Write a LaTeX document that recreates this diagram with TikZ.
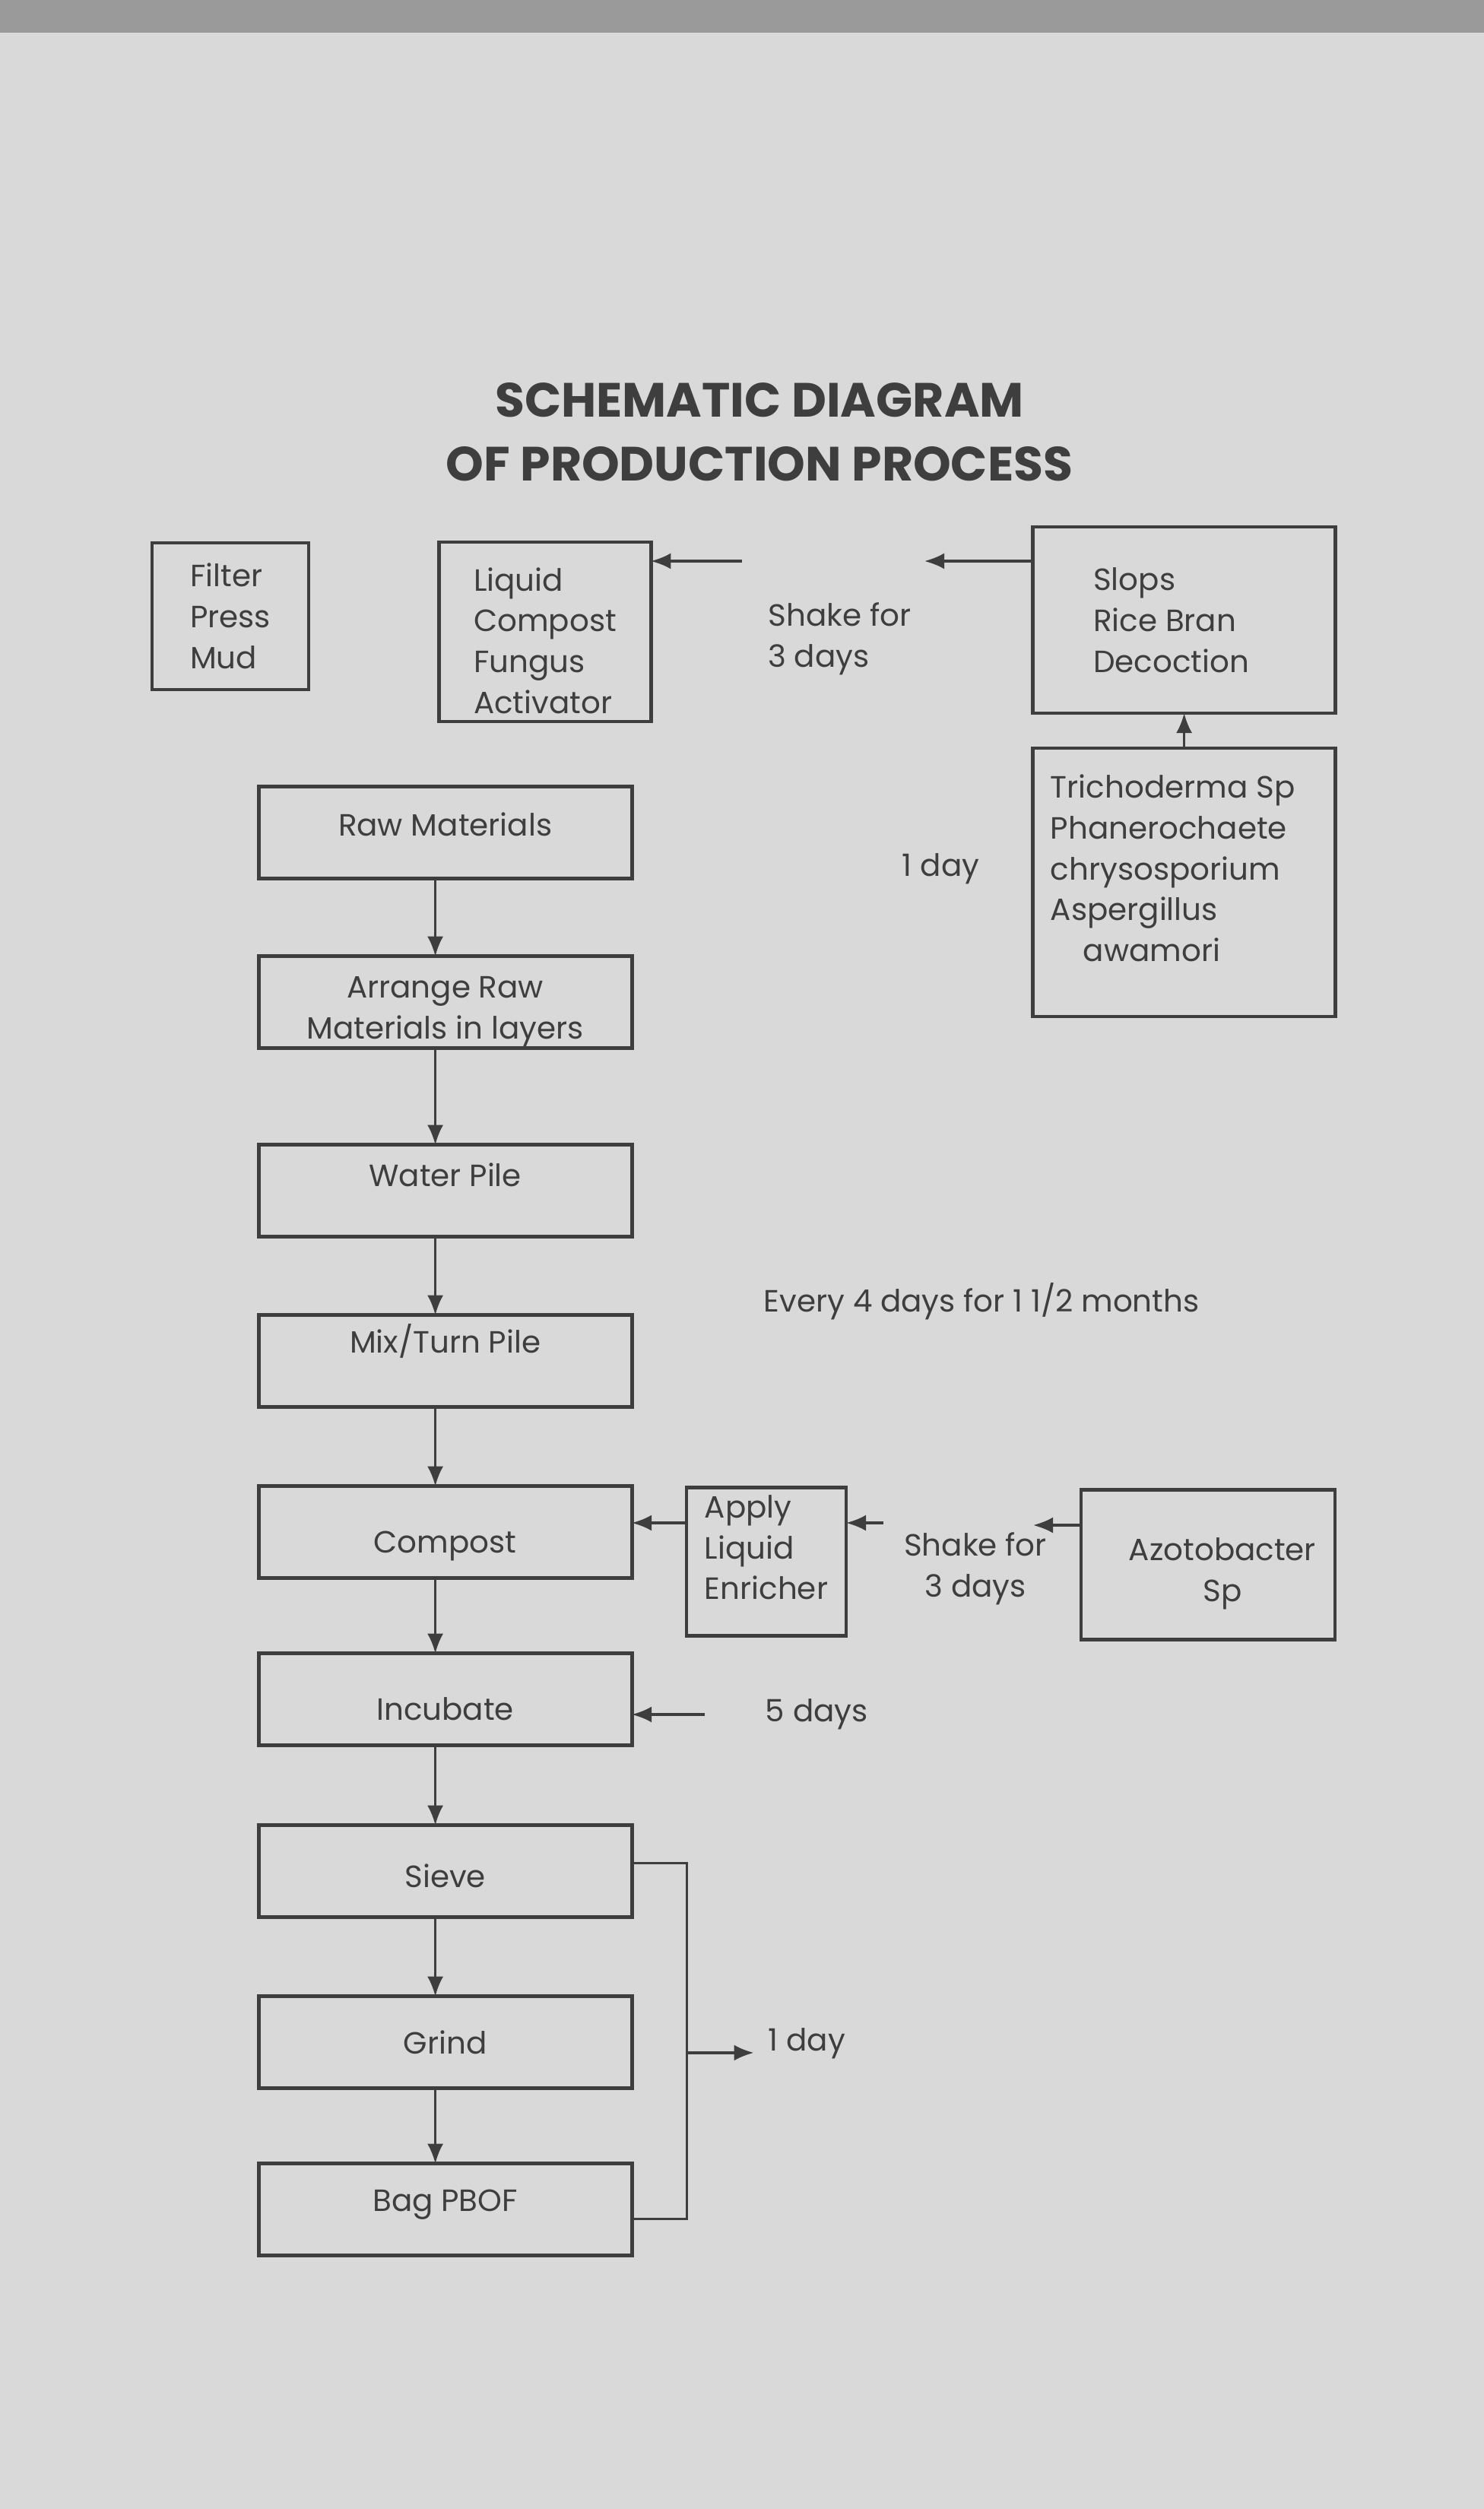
\documentclass[tikz,border=0pt]{standalone}
\usepackage{fontspec}
\setmainfont{Poppins}
\usepackage{tikz}
\usetikzlibrary{arrows.meta, positioning, calc}

\definecolor{paper}{HTML}{D9D9D9}
\definecolor{band}{HTML}{9A9A9A}
\definecolor{ink}{HTML}{3E3E3E}
\newcommand{\bodyfont}{\fontsize{11.5}{15.3}\selectfont}
\newcommand{\titlefont}{\fontsize{18}{24}\selectfont\bfseries}

\begin{document}
\begin{tikzpicture}[
  box/.style={rectangle, draw=ink, line width=1.4pt, text=ink,
              font=\bodyfont, align=left, inner ysep=1pt, outer sep=0pt},
  flow/.style={rectangle, draw=ink, line width=1.4pt, text=ink,
               font=\bodyfont, minimum width=4.91cm,
               minimum height=1.21cm, inner ysep=2pt, outer sep=0pt},
  note/.style={text=ink, font=\bodyfont},
  arr/.style={-{Latex[length=2.6mm,width=2.1mm]}, line width=0.9pt, draw=ink},
  lnk/.style={line width=0.9pt, draw=ink}
]
%% Page
\fill[paper] (0,0) rectangle (19.52,-33);
\fill[band] (0,0) rectangle (19.52,-0.43);
\useasboundingbox (0,0) rectangle (19.52,-33);
%% Title
\node[note, font=\titlefont, align=center] (title) at (9.99,-5.68)
  {SCHEMATIC DIAGRAM\\OF PRODUCTION PROCESS};
%% Top row
\node[box, minimum width=2.06cm, minimum height=1.93cm] (Filter) at (3.03,-8.105) {Filter\\Press\\Mud};
\node[box, minimum width=2.785cm, minimum height=2.36cm] (Liquid) at (7.17,-8.31) {\mbox{}\\Liquid\\Compost\\Fungus\\Activator};
\node[box, minimum width=3.98cm, minimum height=2.45cm] (Slops) at (15.576,-8.155) {Slops\\Rice Bran\\Decoction\hspace*{0.34cm}};
\node[box, minimum width=3.98cm, minimum height=3.53cm, below=0.46cm of Slops] (Tricho)
  {Trichoderma Sp\hspace*{0.3cm}\\Phanerochaete\\chrysosporium\\Aspergillus\\\hspace*{0.43cm}awamori\\[-0.16cm]\mbox{}};
\node[note, align=left, anchor=west] (shake1) at (9.98,-8.40) {Shake for\\3 days};
\node[note] (day1) at (12.375,-11.43) {1 day};
%% Top arrows
\coordinate (t1) at (9.76,-7.38);
\coordinate (t2) at (12.16,-7.38);
\draw[arr] (t1) -- (t1 -| Liquid.east);
\draw[arr] (t2 -| Slops.west) -- (t2);
\draw[arr] (Tricho.north) -- (Slops.south);
%% Main column
\node[flow, text depth=0.22cm] (Raw) at (5.856,-10.952) {Raw Materials};
\node[flow, align=center, inner ysep=0pt, below=1.02cm of Raw] (Arrange) {\mbox{}\\Arrange Raw\\Materials in layers};
\node[flow, text depth=0.42cm, below=1.27cm of Arrange] (Water) {Water Pile};
\node[flow, text depth=0.6cm, below=1.03cm of Water] (Mix) {Mix/Turn Pile};
\node[flow, text height=0.66cm, below=1.04cm of Mix] (Compost) {Compost};
\node[flow, text height=0.54cm, below=0.99cm of Compost] (Incubate) {Incubate};
\node[flow, text height=0.42cm, below=1.05cm of Incubate] (Sieve) {Sieve};
\node[flow, below=1.04cm of Sieve] (Grind) {Grind};
\node[flow, text depth=0.24cm, below=0.99cm of Grind] (Bag) {Bag PBOF};
\foreach \a/\b in {Raw/Arrange,Arrange/Water,Water/Mix,Mix/Compost,
                   Compost/Incubate,Incubate/Sieve,Sieve/Grind,Grind/Bag}{
  \draw[arr] ([xshift=-1.3mm]\a.south) -- ([xshift=-1.3mm]\b.north);}
\node[note, anchor=west] (every) at (9.925,-17.12) {Every 4 days for 1 1/2 months};
%% Enricher row
\node[box, minimum width=2.10cm, minimum height=1.95cm] (Apply) at (10.08,-20.54) {Apply\\Liquid\\Enricher\\[-0.16cm]\mbox{}};
\node[box, align=center, minimum width=3.34cm, minimum height=1.97cm] (Azo) at (15.89,-20.58)
  {\mbox{}\\\hspace*{0.38cm}Azotobacter\\\hspace*{0.38cm}Sp};
\node[note, align=center] (shake2) at (12.83,-20.63) {Shake for\\3 days};
\coordinate (e1) at (11.62,-20.03);
\coordinate (e2) at (13.59,-20.06);
\draw[arr] (e1) -- (e1 -| Apply.east);
\draw[arr] (e2 -| Azo.west) -- (e2);
\draw[arr] (Apply.west |- e1) -- (e1 -| Compost.east);
%% Incubate and bagging
\node[note, anchor=west] (day5) at (9.945,-22.55) {5 days};
\draw[arr, shorten <=6.8mm] (day5.west) -- (day5.west -| Incubate.east);
\coordinate (bk) at ($(Grind.east)+(0.72,-0.137)$);
\draw[lnk] ([yshift=1.1mm]Sieve.east) -| (bk) |- ([yshift=-1.25mm]Bag.east);
\node[note, anchor=west] (day2) at (9.985,-26.88) {1 day};
\draw[arr, shorten >=0.7mm] (bk) -- (bk -| day2.west);
\end{tikzpicture}
\end{document}
